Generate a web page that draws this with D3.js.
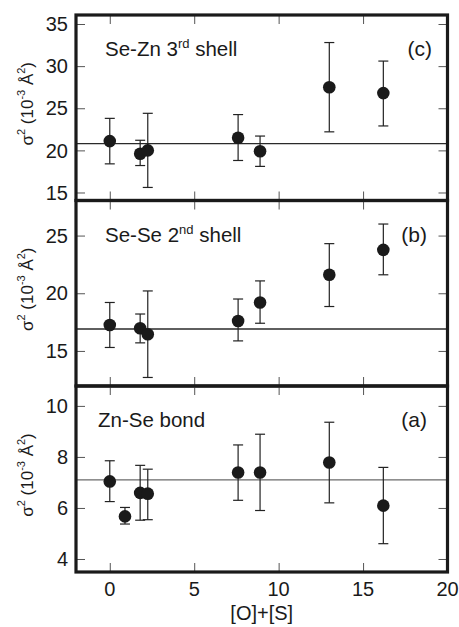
<!DOCTYPE html>
<html><head><meta charset="utf-8">
<script src="https://cdn.jsdelivr.net/npm/d3@7"></script>
<style>body{margin:0;background:#fff}text{font-family:"Liberation Sans",Arial,Helvetica,sans-serif;fill:#1a1a1a}</style>
</head><body><svg id="chart" width="459" height="627"></svg>
<script>
// ---- data ----
const xA = [0, 0.9, 1.8, 2.25, 7.6, 8.9, 13.0, 16.2];
const yA = [7.04, 5.67, 6.59, 6.56, 7.39, 7.39, 7.78, 6.09];
const loA = [6.25, 5.37, 5.52, 5.54, 6.30, 5.90, 6.20, 4.60];
const hiA = [7.85, 6.02, 7.67, 7.52, 8.47, 8.89, 9.36, 7.59];

const xBC = [0, 1.8, 2.25, 7.6, 8.9, 13.0, 16.2];
const yB = [17.25, 16.97, 16.45, 17.6, 19.2, 21.6, 23.76];
const loB = [15.3, 15.7, 12.7, 15.87, 17.4, 18.85, 21.6];
const hiB = [19.2, 18.2, 20.2, 19.5, 21.07, 24.3, 26.0];

const yC = [21.1, 19.6, 20.0, 21.5, 19.9, 27.5, 26.8];
const loC = [18.4, 18.2, 15.6, 18.8, 18.1, 22.2, 22.9];
const hiC = [23.8, 21.2, 24.4, 24.25, 21.7, 32.8, 30.6];

const refA = 7.1, refB = 16.9, refC = 20.8;
const xTicks = [0, 5, 10, 15, 20];
const yTicksA = [4, 6, 8, 10];
const yTicksB = [15, 20, 25];
const yTicksC = [15, 20, 25, 30, 35];
const xDomain = [-2, 20];
const domA = [3.49, 10.78], domB = [11.96, 28.04], domC = [14.05, 36.07];
const titleA = ["Zn-Se bond", null, ""], titleB = ["Se-Se 2", "nd", " shell"], titleC = ["Se-Zn 3", "rd", " shell"];
const tagA = "(a)", tagB = "(b)", tagC = "(c)";
const xLabel = "[O]+[S]";

// ---- layout ----
const svg = d3.select("#chart");
const L = 76, R = 447.5;
const x = d3.scaleLinear().domain(xDomain).range([L, R]);
const panels = [
  {top: 15,    bot: 200.5, dom: domC, ticks: yTicksC, xs: xBC, ys: yC, lo: loC, hi: hiC, ref: refC, title: titleC, tag: tagC},
  {top: 200.5, bot: 386,   dom: domB, ticks: yTicksB, xs: xBC, ys: yB, lo: loB, hi: hiB, ref: refB, title: titleB, tag: tagB},
  {top: 386,   bot: 572,   dom: domA, ticks: yTicksA, xs: xA,  ys: yA, lo: loA, hi: hiA, ref: refA, title: titleA, tag: tagA}
];
const tickLen = 9;
const ink = "#1a1a1a";

panels.forEach((p, pi) => {
  const y = d3.scaleLinear().domain(p.dom).range([p.bot, p.top]);
  const g = svg.append("g");

  const left = d3.axisRight(y).tickValues(p.ticks).tickSize(tickLen).tickFormat("");
  const right = d3.axisLeft(y).tickValues(p.ticks).tickSize(tickLen).tickFormat("");
  const top = d3.axisBottom(x).tickValues(xTicks.filter(v => v < xDomain[1])).tickSize(tickLen).tickFormat("");
  const bot = d3.axisTop(x).tickValues(xTicks.filter(v => v < xDomain[1])).tickSize(tickLen).tickFormat("");
  [[left, `translate(${L},0)`], [right, `translate(${R},0)`], [top, `translate(0,${p.top})`], [bot, `translate(0,${p.bot})`]].forEach(([ax, tr]) => {
    const a = g.append("g").attr("transform", tr).call(ax);
    a.select(".domain").remove();
    a.selectAll("line").attr("stroke", "#555").attr("stroke-width", 1);
  });

  g.selectAll("text.yl").data(p.ticks).join("text")
    .attr("x", 68).attr("y", d => y(d)).attr("dy", "0.36em")
    .attr("text-anchor", "end").attr("font-size", 20).text(d => d);

  g.append("line").attr("x1", L).attr("x2", R).attr("y1", y(p.ref)).attr("y2", y(p.ref))
    .attr("stroke", pi === 2 ? "#6a6a6a" : "#2a2a2a").attr("stroke-width", 1.3);

  const idx = d3.range(p.xs.length);
  g.selectAll("line.eb").data(idx).join("line")
    .attr("x1", i => x(p.xs[i])).attr("x2", i => x(p.xs[i]))
    .attr("y1", i => y(p.lo[i])).attr("y2", i => y(p.hi[i]))
    .attr("stroke", "#222").attr("stroke-width", 1.2);
  ["lo", "hi"].forEach(k => {
    g.selectAll("line.cap" + k).data(idx).join("line")
      .attr("x1", i => x(p.xs[i]) - 5).attr("x2", i => x(p.xs[i]) + 5)
      .attr("y1", i => y(p[k][i])).attr("y2", i => y(p[k][i]))
      .attr("stroke", "#222").attr("stroke-width", 1.2);
  });
  g.selectAll("circle").data(idx).join("circle")
    .attr("cx", i => x(p.xs[i])).attr("cy", i => y(p.ys[i])).attr("r", 6.3)
    .attr("fill", ink);

  const t = g.append("text").attr("x", pi === 2 ? 98 : 105).attr("y", p.top + 41).attr("font-size", 20.5);
  t.append("tspan").text(p.title[0]);
  if (p.title[1]) {
    t.append("tspan").attr("font-size", 13).attr("dy", -8).text(p.title[1]);
    t.append("tspan").attr("dy", 8).text(p.title[2]);
  }
  g.append("text").attr("x", pi === 0 ? 432 : 427).attr("y", p.top + 41).attr("text-anchor", "end")
    .attr("font-size", 21).text(p.tag);

  const cy = (p.top + p.bot) / 2 - 4;
  const yt = g.append("text").attr("transform", `translate(33,${cy}) rotate(-90)`)
    .attr("text-anchor", "middle").attr("font-size", 17);
  yt.append("tspan").text("σ");
  yt.append("tspan").attr("font-size", 11).attr("dy", -8).text("2");
  yt.append("tspan").attr("dy", 8).text(" (10");
  yt.append("tspan").attr("font-size", 11).attr("dy", -8).text("-3");
  yt.append("tspan").attr("dy", 8).text(" Å");
  yt.append("tspan").attr("font-size", 11).attr("dy", -8).text("2");
  yt.append("tspan").attr("dy", 8).text(")");

  g.append("rect").attr("x", L).attr("y", p.top).attr("width", R - L).attr("height", p.bot - p.top)
    .attr("fill", "none").attr("stroke", ink).attr("stroke-width", 3.2);
});

svg.selectAll("text.xl").data(xTicks).join("text")
  .attr("x", d => x(d)).attr("y", 596).attr("text-anchor", "middle").attr("font-size", 20).text(d => d);
svg.append("text").attr("x", (L + R) / 2).attr("y", 620).attr("text-anchor", "middle")
  .attr("font-size", 20).text(xLabel);
</script></body></html>
